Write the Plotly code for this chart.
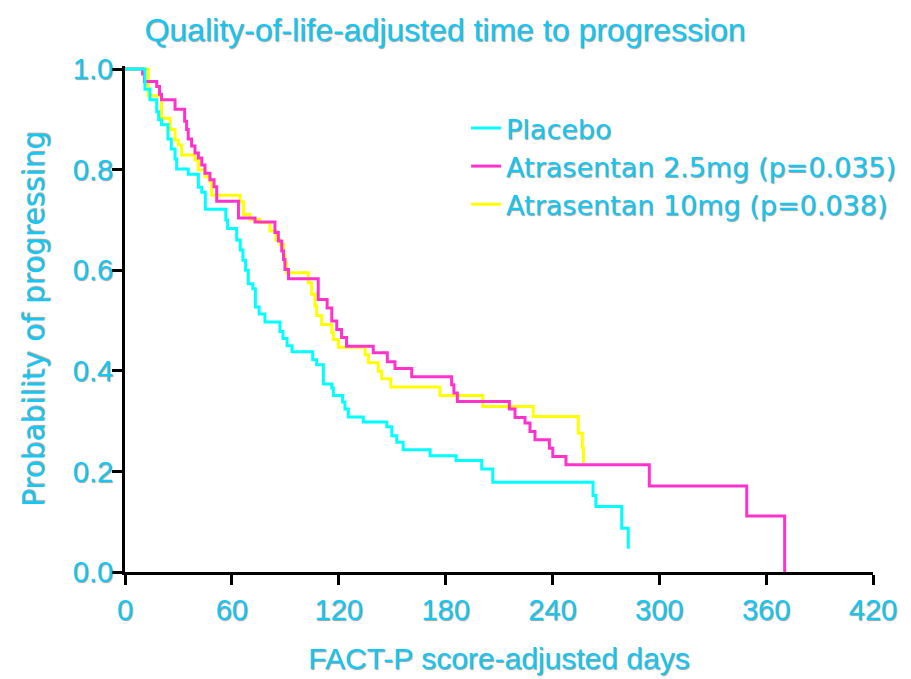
import plotly.graph_objects as go

# ---- data ----
placebo_days = [0, 11.2, 14.0, 17.8, 18.9, 20.5, 24.1, 26.0, 28.1, 29.0, 35.5, 41.2, 43.1, 45.1,
                56.6, 57.6, 62.7, 64.7, 66.2, 67.7, 69.2, 71.8, 73.2, 75.3, 78.6, 87.0, 88.7,
                91.0, 93.8, 105.4, 107.6, 111.4, 116.1, 117.0, 122.2, 123.5, 125.4, 133.8,
                147.0, 149.8, 152.6, 156.2, 171.3, 185.9, 200.3, 206.5, 262.8, 264.4, 278.9, 282.6]
placebo_prob = [1.0, 0.96, 0.939, 0.915, 0.899, 0.889, 0.861, 0.841, 0.821, 0.801, 0.791, 0.765,
                0.755, 0.721, 0.70, 0.683, 0.66, 0.64, 0.62, 0.60, 0.573, 0.563, 0.527, 0.513,
                0.497, 0.478, 0.464, 0.45, 0.438, 0.422, 0.412, 0.374, 0.366, 0.351, 0.338, 0.324,
                0.308, 0.298, 0.289, 0.271, 0.258, 0.243, 0.231, 0.2215, 0.205, 0.1785, 0.152,
                0.130, 0.087, 0.046]

atr25_days = [0, 9.9, 10.9, 17.8, 19.4, 20.5, 28.1, 33.5, 34.6, 35.5, 37.4, 39.3, 41.2, 43.1,
              44.9, 47.7, 50.0, 51.5, 63.7, 73.0, 84.2, 86.1, 88.0, 89.0, 89.8, 91.8, 108.5,
              113.5, 116.1, 118.9, 121.6, 124.4, 139.4, 147.3, 151.6, 161.0, 183.4, 184.7,
              186.6, 215.8, 219.0, 224.6, 227.4, 230.2, 238.3, 240.2, 247.6, 294.4, 349.1, 370.4]
atr25_prob = [1.0, 0.99, 0.975, 0.965, 0.95, 0.939, 0.92, 0.896, 0.88, 0.861, 0.847, 0.833,
              0.823, 0.809, 0.793, 0.78, 0.766, 0.737, 0.704, 0.696, 0.675, 0.658, 0.638,
              0.6215, 0.6016, 0.583, 0.542, 0.525, 0.499, 0.482, 0.466, 0.449, 0.436, 0.418,
              0.4045, 0.388, 0.3725, 0.356, 0.339, 0.324, 0.307, 0.296, 0.2795, 0.263, 0.246,
              0.2297, 0.213, 0.171, 0.1115, 0.0]

atr10_days = [0, 13.1, 20.5, 25.3, 28.1, 29.9, 31.8, 39.3, 41.2, 44.9, 47.7, 48.7, 64.6, 66.5,
              70.2, 75.8, 81.4, 84.8, 87.0, 89.0, 89.8, 90.7, 102.9, 104.8, 106.7, 107.6, 110.4,
              116.1, 117.0, 119.8, 134.8, 136.6, 142.2, 144.1, 149.2, 176.8, 200.9, 229.2,
              254.5, 256.8, 257.4]
atr10_prob = [1.0, 0.947, 0.902, 0.880, 0.859, 0.849, 0.829, 0.819, 0.799, 0.786, 0.776, 0.749,
              0.736, 0.711, 0.701, 0.695, 0.678, 0.66, 0.651, 0.63, 0.615, 0.595, 0.575, 0.552,
              0.529, 0.51, 0.492, 0.476, 0.462, 0.447, 0.432, 0.416, 0.399, 0.384, 0.368, 0.351,
              0.329, 0.309, 0.276, 0.247, 0.217]

x_ticks = [0, 60, 120, 180, 240, 300, 360, 420]
y_ticks = [0.0, 0.2, 0.4, 0.6, 0.8, 1.0]
y_ticktext = ["0.0", "0.2", "0.4", "0.6", "0.8", "1.0"]

TXT = "#14C8F5"
SHADOW = "1px 1px 1px rgba(80,80,80,0.55)"
NARROW = "Liberation Sans, Arial, sans-serif"
WIDE = "DejaVu Sans, Verdana, sans-serif"

W, H = 911, 679   # page body keeps an 8px margin, so the figure sits at (8, 8)

fig = go.Figure()
fig.add_trace(go.Scatter(x=atr10_days, y=atr10_prob, mode="lines", name="Atrasentan 10mg (p=0.038)",
                         line=dict(color="#FFFF00", width=3, shape="hv"), legendrank=3,
                         legendgroup="c"))
fig.add_trace(go.Scatter(x=atr25_days, y=atr25_prob, mode="lines", name="Atrasentan 2.5mg (p=0.035)",
                         line=dict(color="#FF33CC", width=3, shape="hv"), legendrank=2,
                         legendgroup="b"))
fig.add_trace(go.Scatter(x=placebo_days, y=placebo_prob, mode="lines", name="Placebo",
                         line=dict(color="#00FFFF", width=3, shape="hv"), legendrank=1,
                         legendgroup="a"))

fig.update_layout(
    width=W, height=H, autosize=False,
    margin=dict(l=117, r=46, t=58, b=115, autoexpand=False),
    paper_bgcolor="white", plot_bgcolor="white",
    title=dict(text="Quality-of-life-adjusted time to progression",
               x=437 / W, xanchor="center", xref="container",
               y=1 - 22 / H, yanchor="middle", yref="container",
               font=dict(family=NARROW, size=32, color=TXT, shadow=SHADOW)),
    legend=dict(x=0.456, y=0.925, xanchor="left", yanchor="top",
                bgcolor="rgba(0,0,0,0)", tracegroupgap=0,
                font=dict(family=WIDE, size=27, color=TXT, shadow=SHADOW)),
    showlegend=True,
)
fig.update_xaxes(range=[0, 420], tickvals=x_ticks, showgrid=False, zeroline=False,
                 showline=True, linecolor="black", linewidth=3,
                 ticks="outside", ticklen=10, tickwidth=3, tickcolor="black",
                 tickfont=dict(family=NARROW, size=29, color=TXT, shadow=SHADOW),
                 title=dict(text="FACT-P score-adjusted days", standoff=24,
                            font=dict(family=NARROW, size=30, color=TXT, shadow=SHADOW)))
fig.update_yaxes(range=[0, 1.006], tickvals=y_ticks, ticktext=y_ticktext, showgrid=False,
                 zeroline=False, showline=True, linecolor="black", linewidth=3,
                 ticks="outside", ticklen=10, tickwidth=3, tickcolor="black",
                 ticklabelstandoff=-7,
                 tickfont=dict(family=NARROW, size=29, color=TXT, shadow=SHADOW),
                 title=dict(text="Probability of progressing", standoff=20,
                            font=dict(family=WIDE, size=29.5, color=TXT, shadow=SHADOW)))

fig.write_html("out.html")
